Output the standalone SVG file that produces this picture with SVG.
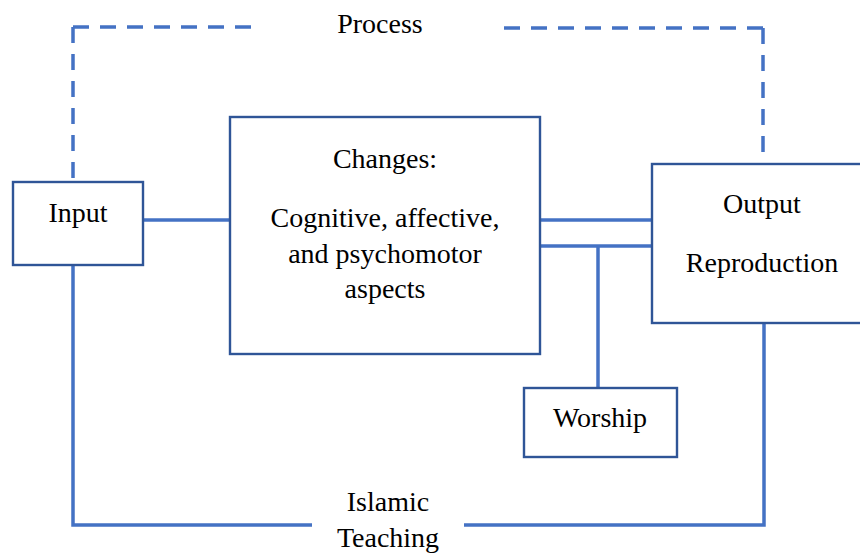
<svg xmlns="http://www.w3.org/2000/svg" width="860" height="554" viewBox="0 0 860 554">
<style>
.box{fill:#fff;stroke:#2F5597;stroke-width:2.4}
.ln{fill:none;stroke:#4472C4;stroke-width:3.5}
.dash{fill:none;stroke:#4472C4;stroke-width:3.5;stroke-dasharray:16 11}
svg text.t{font-family:'Liberation Serif',serif !important;font-size:28px;fill:#000;text-anchor:middle}
</style>
<rect width="860" height="554" fill="#fff"/>
<g id="connectors">
<path class="dash" d="M73 27 H258"/>
<path class="dash" d="M73 27 V182"/>
<path class="dash" d="M763 28 H497"/>
<path class="dash" d="M763 28 V168"/>
<path class="ln" d="M143 220 H230"/>
<path class="ln" d="M540 220 H652"/>
<path class="ln" d="M540 246 H652"/>
<path class="ln" d="M598 246 V388"/>
<path class="ln" d="M73 265 V525 H312"/>
<path class="ln" d="M464 525 H764 V323"/>
<text class="t" x="380" y="33" font-family="Liberation Serif">Process</text>
<text class="t" x="388" y="511" font-family="Liberation Serif">Islamic</text>
<text class="t" x="388" y="547" font-family="Liberation Serif">Teaching</text>
</g>
<g id="input">
<rect class="box" x="13" y="182" width="130" height="83"/>
<text class="t" x="78" y="222" font-family="Liberation Serif">Input</text>
</g>
<g id="changes">
<rect class="box" x="230" y="117" width="310" height="237"/>
<text class="t" x="385" y="168" font-family="Liberation Serif">Changes:</text>
<text class="t" x="385" y="227" font-family="Liberation Serif">Cognitive, affective,</text>
<text class="t" x="385" y="263" font-family="Liberation Serif">and psychomotor</text>
<text class="t" x="385" y="298" font-family="Liberation Serif">aspects</text>
</g>
<g id="output">
<rect class="box" x="652" y="164" width="220" height="159"/>
<text class="t" x="762" y="213" font-family="Liberation Serif">Output</text>
<text class="t" x="762" y="272" font-family="Liberation Serif">Reproduction</text>
</g>
<g id="worship">
<rect class="box" x="524" y="388" width="153" height="69"/>
<text class="t" x="600" y="427" font-family="Liberation Serif">Worship</text>
</g>
</svg>
